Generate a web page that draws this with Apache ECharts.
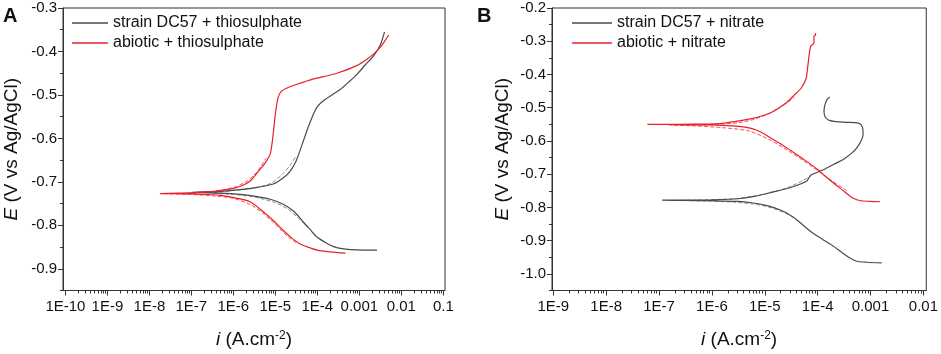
<!DOCTYPE html>
<html>
<head>
<meta charset="utf-8">
<script src="https://cdn.jsdelivr.net/npm/echarts@6/dist/echarts.min.js"></script>
<style>
html, body { margin: 0; padding: 0; background: #fff; }
#chart { width: 941px; height: 354px; }
</style>
</head>
<body>
<div id="chart"></div>
<script>
// values: log10 of current density (A/cm2) and potential (V vs Ag/AgCl)
// each curve runs from the cathodic end, through Ecorr, to the anodic end

// panel A - thiosulphate
const aStrainLogI = [-2.58, -2.9, -3.21, -3.45, -3.61, -3.8, -4.01, -4.17, -4.33, -4.45, -4.57, -4.8, -5.12, -5.5, -5.84, -6.3, -6.7, -7.0,
  -6.7, -6.3, -5.84, -5.4, -5.05, -4.8, -4.65, -4.52, -4.45, -4.33, -4.22, -4.12, -4.0, -3.85, -3.65, -3.45, -3.25, -3.05, -2.85, -2.66, -2.5, -2.40];
const aStrainE = [-0.857, -0.857, -0.856, -0.853, -0.849, -0.840, -0.827, -0.810, -0.793, -0.779, -0.767, -0.752, -0.740, -0.733, -0.729, -0.726, -0.725, -0.724,
  -0.723, -0.722, -0.718, -0.712, -0.705, -0.690, -0.676, -0.655, -0.638, -0.605, -0.575, -0.550, -0.527, -0.513, -0.500, -0.487, -0.470, -0.452, -0.430, -0.410, -0.385, -0.355];

const aAbioticLogI = [-3.33, -3.7, -4.01, -4.2, -4.41, -4.6, -4.81, -5.05, -5.36, -5.6, -5.84, -6.3, -6.64, -7.0, -7.4, -7.75,
  -7.3, -6.9, -6.6, -6.32, -6.0, -5.8, -5.6, -5.44, -5.3, -5.2, -5.12, -5.07, -5.03, -4.98, -4.93, -4.86, -4.72, -4.5, -4.09, -3.85, -3.5, -3.05, -2.82, -2.65, -2.5, -2.38, -2.30];
const aAbioticE = [-0.864, -0.861, -0.857, -0.851, -0.843, -0.830, -0.812, -0.789, -0.763, -0.746, -0.739, -0.731, -0.729, -0.728, -0.727, -0.727,
  -0.726, -0.725, -0.723, -0.720, -0.715, -0.709, -0.698, -0.680, -0.664, -0.650, -0.635, -0.605, -0.570, -0.530, -0.505, -0.492, -0.484, -0.476, -0.463, -0.458, -0.449, -0.432, -0.418, -0.405, -0.390, -0.374, -0.362];

// fitted (dashed) curves, panel A
const aStrainFitLogI = [-4.2, -4.4, -4.7, -5.0, -5.5, -6.0, -6.5, -6.0, -5.5, -5.1, -4.85, -4.65, -4.5];
const aStrainFitE = [-0.807, -0.788, -0.763, -0.748, -0.735, -0.729, -0.726, -0.720, -0.714, -0.703, -0.684, -0.662, -0.640];
const aAbioticFitLogI = [-4.5, -4.7, -5.0, -5.3, -5.6, -6.0, -6.5, -7.0, -7.7, -7.0, -6.5, -6.0, -5.7, -5.5, -5.35, -5.22];
const aAbioticFitE = [-0.840, -0.826, -0.798, -0.772, -0.752, -0.738, -0.732, -0.729, -0.727, -0.726, -0.722, -0.713, -0.700, -0.684, -0.665, -0.645];

// panel B - nitrate
const bStrainLogI = [-2.79, -3.07, -3.26, -3.38, -3.53, -3.69, -3.85, -4.0, -4.15, -4.3, -4.44, -4.63, -4.8, -5.0, -5.25, -5.5, -6.0, -6.5, -6.94,
  -6.5, -6.0, -5.5, -5.2, -4.88, -4.51, -4.3, -4.2, -4.17, -4.13, -4.05, -3.88, -3.7, -3.51, -3.35, -3.26, -3.18, -3.14, -3.15, -3.2, -3.29, -3.45, -3.63, -3.78, -3.86, -3.88, -3.86, -3.82, -3.77];
const bStrainE = [-0.967, -0.965, -0.962, -0.953, -0.937, -0.918, -0.902, -0.887, -0.870, -0.850, -0.832, -0.813, -0.802, -0.793, -0.786, -0.782, -0.780, -0.779, -0.778,
  -0.778, -0.777, -0.774, -0.767, -0.755, -0.740, -0.728, -0.720, -0.712, -0.703, -0.697, -0.686, -0.671, -0.655, -0.636, -0.621, -0.600, -0.581, -0.560, -0.548, -0.545, -0.544, -0.542, -0.538, -0.527, -0.510, -0.490, -0.475, -0.468];

const bAbioticLogI = [-2.82, -3.0, -3.18, -3.26, -3.38, -3.53, -3.69, -3.85, -4.0, -4.22, -4.44, -4.66, -4.88, -5.0, -5.15, -5.32, -5.44, -5.8, -6.07, -6.6, -7.22,
  -6.6, -6.07, -5.8, -5.57, -5.25, -5.0, -4.85, -4.7, -4.57, -4.45, -4.32, -4.22, -4.19, -4.16, -4.13, -4.07, -4.07, -4.04, -4.04];
const bAbioticE = [-0.783, -0.782, -0.780, -0.777, -0.767, -0.748, -0.728, -0.707, -0.686, -0.660, -0.636, -0.613, -0.592, -0.580, -0.568, -0.560, -0.557, -0.553, -0.552, -0.551, -0.550,
  -0.550, -0.549, -0.547, -0.542, -0.533, -0.522, -0.512, -0.497, -0.482, -0.463, -0.443, -0.413, -0.380, -0.340, -0.315, -0.305, -0.285, -0.282, -0.275];

// fitted (dashed) curves, panel B
const bStrainFitLogI = [-4.45, -4.6, -4.9, -5.2, -5.6, -6.3, -6.8, -6.3, -5.6, -5.2, -4.9, -4.6, -4.35, -4.13];
const bStrainFitE = [-0.830, -0.818, -0.800, -0.790, -0.784, -0.780, -0.779, -0.778, -0.774, -0.766, -0.756, -0.742, -0.725, -0.705];
const bAbioticFitLogI = [-3.45, -3.8, -4.1, -4.5, -4.9, -5.3, -5.8, -6.3, -6.8, -6.3, -6.0, -5.5, -5.2, -4.9, -4.6, -4.44];
const bAbioticFitE = [-0.750, -0.712, -0.678, -0.635, -0.597, -0.570, -0.560, -0.555, -0.552, -0.552, -0.551, -0.545, -0.535, -0.516, -0.488, -0.468];

// tick labels
const xTicksA = [1e-10, 1e-9, 1e-8, 1e-7, 1e-6, 1e-5, 1e-4, 1e-3, 1e-2, 1e-1];
const xTicksB = [1e-9, 1e-8, 1e-7, 1e-6, 1e-5, 1e-4, 1e-3, 1e-2];
const yTicksA = [-0.9, -0.8, -0.7, -0.6, -0.5, -0.4, -0.3];
const yMinorA = [-0.95, -0.85, -0.75, -0.65, -0.55, -0.45, -0.35];
const yTicksB = [-1.0, -0.9, -0.8, -0.7, -0.6, -0.5, -0.4, -0.3, -0.2];
const yMinorB = [-1.05, -0.95, -0.85, -0.75, -0.65, -0.55, -0.45, -0.35, -0.25];

const GREY = '#4a4a4a';
const RED = '#e8202a';
const FONT = 'Liberation Sans, Arial, sans-serif';

function pairs(logI, E) {
  return logI.map((v, k) => [Math.pow(10, v), E[k]]);
}

function minorLog(decades) {
  let out = [];
  decades.forEach((d) => {
    for (let m = 2; m <= 9; m++) out.push(d * m);
  });
  return out;
}

function fmtCurrent(v) {
  let e = Math.round(Math.log10(v));
  if (e <= -4) return '1E' + e;
  return String(Math.pow(10, e).toFixed(-e));
}

function xMain(grid, min, max, ticks) {
  return {
    gridIndex: grid, type: 'log', position: 'bottom',
    min: min, max: max,
    axisLine: { onZero: false, lineStyle: { color: '#333', width: 1 } },
    axisTick: { customValues: ticks, length: 5, lineStyle: { color: '#333' } },
    axisLabel: { customValues: ticks, formatter: fmtCurrent, color: '#111', fontSize: 15, fontFamily: FONT, margin: 9 },
    splitLine: { show: false },
    name: '{it|i} (A.cm{sup|-2})',
    nameLocation: 'middle', nameGap: 39,
    nameTextStyle: {
      fontSize: 19, fontFamily: FONT, color: '#111',
      rich: {
        it: { fontStyle: 'italic', fontSize: 19, fontFamily: FONT, color: '#111' },
        sup: { fontSize: 12, fontFamily: FONT, color: '#111', verticalAlign: 'top', padding: [0, 0, 8, 0] },
      },
    },
  };
}

function xMinor(grid, min, max, ticks) {
  return {
    gridIndex: grid, type: 'log', position: 'bottom',
    min: min, max: max,
    axisLine: { show: false, onZero: false },
    axisTick: { customValues: minorLog(ticks.slice(0, -1)), length: 3, lineStyle: { color: '#333' } },
    axisLabel: { show: false },
    splitLine: { show: false },
  };
}

function yMain(grid, min, max, ticks, gap) {
  return {
    gridIndex: grid, type: 'value', position: 'left',
    min: min, max: max,
    axisLine: { show: true, onZero: false, lineStyle: { color: '#333', width: 1 } },
    axisTick: { show: true, customValues: ticks, length: 5, lineStyle: { color: '#333' } },
    axisLabel: { customValues: ticks, formatter: (v) => v.toFixed(1), color: '#111', fontSize: 15, fontFamily: FONT, margin: 6 },
    splitLine: { show: false },
    name: '{it|E} (V vs Ag/AgCl)',
    nameLocation: 'middle', nameRotate: 90, nameGap: gap,
    nameTextStyle: {
      fontSize: 19, fontFamily: FONT, color: '#111',
      rich: { it: { fontStyle: 'italic', fontSize: 19, fontFamily: FONT, color: '#111' } },
    },
  };
}

function yMinor(grid, min, max, ticks) {
  return {
    gridIndex: grid, type: 'value', position: 'left',
    min: min, max: max,
    axisLine: { show: false, onZero: false },
    axisTick: { show: true, customValues: ticks, length: 3, lineStyle: { color: '#333' } },
    axisLabel: { show: false },
    splitLine: { show: false },
  };
}

function curve(name, logI, E, color, xi, yi) {
  return {
    name: name, type: 'line', xAxisIndex: xi, yAxisIndex: yi,
    data: pairs(logI, E), symbol: 'none', smooth: 0.25,
    lineStyle: { color: color, width: 1.2 }, itemStyle: { color: color },
  };
}

function fit(logI, E, color, xi, yi) {
  return {
    type: 'line', xAxisIndex: xi, yAxisIndex: yi, silent: true,
    data: pairs(logI, E), symbol: 'none', smooth: 0.25,
    lineStyle: { color: color, width: 1, type: [4, 2] },
  };
}

const minA = Math.pow(10, -10.057), maxA = Math.pow(10, -0.96);
const minB = Math.pow(10, -9.024), maxB = Math.pow(10, -1.946);

const legendBase = {
  top: 15, orient: 'vertical', padding: 0, icon: 'rect', itemHeight: 1.5, itemGap: 4,
  textStyle: { fontSize: 16, fontFamily: FONT, color: '#111' },
};

const chart = echarts.init(document.getElementById('chart'));
chart.setOption({
  animation: false,
  backgroundColor: '#fff',
  grid: [
    { left: 63, top: 8, width: 382, height: 286, show: true, borderColor: '#333', borderWidth: 1 },
    { left: 552, top: 8, width: 378, height: 286, show: true, borderColor: '#333', borderWidth: 1 },
  ],
  graphic: [
    { type: 'text', left: 3, top: 6, style: { text: 'A', fontSize: 20, fontWeight: 'bold', fontFamily: FONT, fill: '#111' } },
    { type: 'text', left: 477, top: 6, style: { text: 'B', fontSize: 20, fontWeight: 'bold', fontFamily: FONT, fill: '#111' } },
  ],
  legend: [
    Object.assign({}, legendBase, { left: 72, itemWidth: 36, data: ['strain DC57 + thiosulphate', 'abiotic + thiosulphate'] }),
    Object.assign({}, legendBase, { left: 572, itemWidth: 40, data: ['strain DC57 + nitrate', 'abiotic + nitrate'] }),
  ],
  xAxis: [
    xMain(0, minA, maxA, xTicksA),
    xMinor(0, minA, maxA, xTicksA),
    xMain(1, minB, maxB, xTicksB),
    xMinor(1, minB, maxB, xTicksB),
  ],
  yAxis: [
    yMain(0, -0.95, -0.3, yTicksA, 42),
    yMinor(0, -0.95, -0.3, yMinorA),
    yMain(1, -1.05, -0.2, yTicksB, 40),
    yMinor(1, -1.05, -0.2, yMinorB),
  ],
  series: [
    fit(aStrainFitLogI, aStrainFitE, '#8c8c8c', 0, 0),
    fit(aAbioticFitLogI, aAbioticFitE, '#f0505a', 0, 0),
    curve('strain DC57 + thiosulphate', aStrainLogI, aStrainE, GREY, 0, 0),
    curve('abiotic + thiosulphate', aAbioticLogI, aAbioticE, RED, 0, 0),
    fit(bStrainFitLogI, bStrainFitE, '#8c8c8c', 2, 2),
    fit(bAbioticFitLogI, bAbioticFitE, '#f0505a', 2, 2),
    curve('strain DC57 + nitrate', bStrainLogI, bStrainE, GREY, 2, 2),
    curve('abiotic + nitrate', bAbioticLogI, bAbioticE, RED, 2, 2),
  ],
});
</script>
</body>
</html>
